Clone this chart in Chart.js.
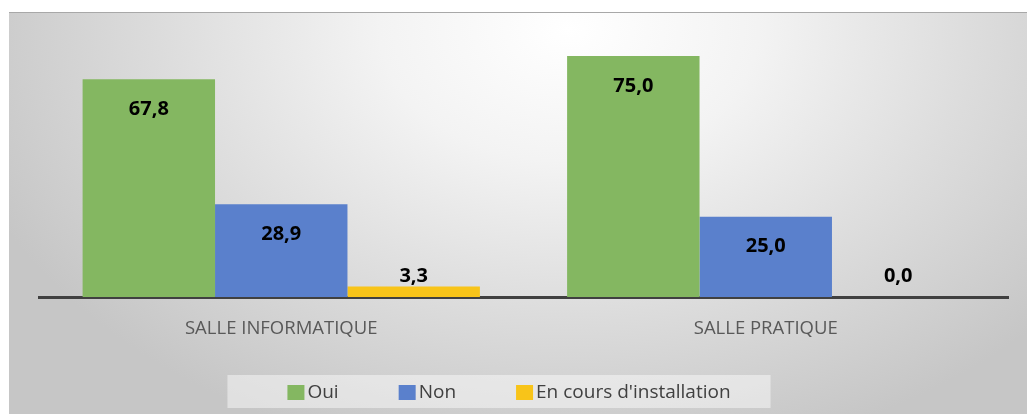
<!DOCTYPE html>
<html>
<head>
<meta charset="utf-8">
<script src="https://cdn.jsdelivr.net/npm/chart.js@4/dist/chart.umd.min.js"></script>
<style>
  html, body { margin: 0; padding: 0; background: #fff; }
  #wrap {
    position: absolute; left: 9px; top: 12px; width: 1018px; height: 402px;
    border-top: 1px solid #a8a8a8;
    box-sizing: border-box;
    background: radial-gradient(ellipse 62% 110% at 55% 4%, #ffffff 0%, #f3f3f3 30%, #dcdcdc 65%, #c6c6c6 100%);
  }
</style>
</head>
<body>
<div id="wrap"><canvas id="myChart" width="1018" height="401"></canvas></div>
<script>
const categories = ['SALLE INFORMATIQUE', 'SALLE PRATIQUE'];
const seriesNames = ['Oui', 'Non', "En cours d'installation"];
const oui = [67.8, 75.0];
const non = [28.9, 25.0];
const enCours = [3.3, 0.0];
const colors = ['#84b761', '#5a80cc', '#f8c419'];

// étiquettes de valeurs (virgule décimale)
const valueLabels = {
    id: 'valueLabels',
    afterDatasetsDraw(chart) {
        const ctx = chart.ctx;
        ctx.save();
        ctx.font = 'bold 20px "Open Sans"';
        ctx.fillStyle = '#000';
        ctx.textAlign = 'center';
        ctx.textBaseline = 'middle';
        chart.data.datasets.forEach((ds, i) => {
            chart.getDatasetMeta(i).data.forEach((bar, j) => {
                const y = Math.min(bar.y + 30, bar.base - 21);
                ctx.fillText(ds.data[j].toFixed(1).replace('.', ','), bar.x, y);
            });
        });
        ctx.restore();
    }
};

// légende dessinée à la main (écart carré/texte plus serré)
const customLegend = {
    id: 'customLegend',
    afterDraw(chart) {
        const ctx = chart.ctx;
        ctx.save();
        ctx.font = '19px "Open Sans"';
        const box = 17, gap = 3, spacing = 60;
        const items = chart.data.datasets.map(ds => ({
            text: ds.label, color: ds.backgroundColor, w: box + gap + ctx.measureText(ds.label).width
        }));
        const total = items.reduce((s, it) => s + it.w, 0) + spacing * (items.length - 1);
        let x = chart.width / 2 - 9 - total / 2;
        const cy = 379;
        ctx.fillStyle = 'rgba(255,255,255,0.45)';
        ctx.fillRect(x - 60, cy - 17, total + 100, 33);
        ctx.textBaseline = 'middle';
        items.forEach(it => {
            ctx.fillStyle = it.color;
            ctx.fillRect(x, cy - 7, box, 15);
            ctx.fillStyle = '#404040';
            ctx.fillText(it.text, x + box + gap, cy + 1);
            x += it.w + spacing;
        });
        ctx.restore();
    }
};

let myChart = document.getElementById('myChart').getContext('2d');

let chart = new Chart(myChart, {
    type: 'bar',
    data: {
        labels: categories,
        datasets: [
            { label: seriesNames[0], data: oui, backgroundColor: colors[0] },
            { label: seriesNames[1], data: non, backgroundColor: colors[1] },
            { label: seriesNames[2], data: enCours, backgroundColor: colors[2] }
        ]
    },
    options: {
        responsive: false,
        animation: false,
        layout: { padding: { left: 30, right: 19, top: 27, bottom: 62 } },
        categoryPercentage: 0.82,
        barPercentage: 1.0,
        plugins: {
            legend: { display: false },
            tooltip: { enabled: false }
        },
        scales: {
            x: {
                grid: { display: false, drawTicks: false },
                border: { display: true, color: '#404040', width: 3 },
                ticks: { color: '#595959', font: { family: 'Open Sans', size: 18.5 }, padding: 21 },
                afterFit(scale) { scale.height = 55; }
            },
            y: {
                display: false,
                min: 0,
                max: 80
            }
        }
    },
    plugins: [valueLabels, customLegend]
});
</script>
</body>
</html>
